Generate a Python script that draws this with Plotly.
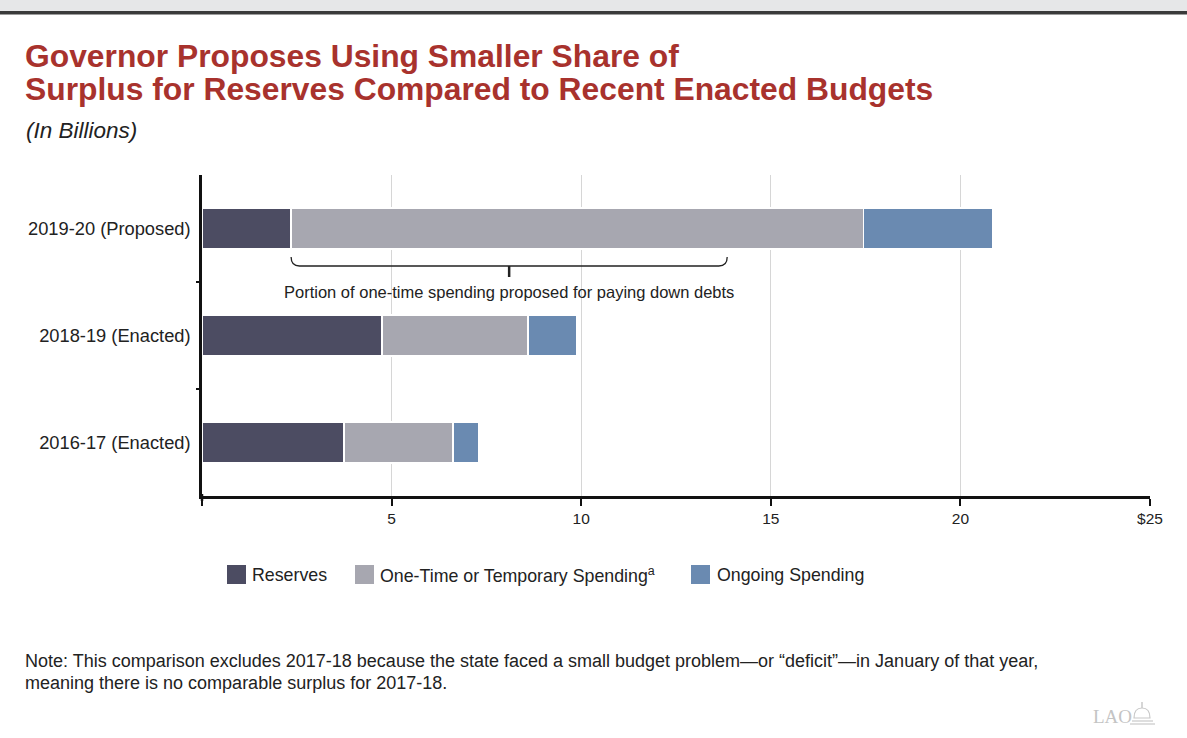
import plotly.graph_objects as go

categories = ["2016-17 (Enacted)", "2018-19 (Enacted)", "2019-20 (Proposed)"]
reserves = [3.74, 4.75, 2.35]
one_time = [2.88, 3.85, 15.1]
ongoing = [0.69, 1.27, 3.4]
series_names = ["Reserves", "One-Time or Temporary Spending<sup>a</sup>", "Ongoing Spending"]
colors = ["#4c4c62", "#a7a7b0", "#6a8ab1"]
x_tickvals = [0, 5, 10, 15, 20, 25]
x_ticktext = ["", "5", "10", "15", "20", "$25"]
bracket_start, bracket_end, bracket_mid = 2.35, 13.85, 8.1

W, H = 1187, 738
L, R, T, B = 202, 1150, 175, 496

def xp(px):
    return (px - L) / (R - L)

def yp(py):
    return (B - py) / (B - T)

fig = go.Figure()
for name, vals, col in zip(series_names, [reserves, one_time, ongoing], colors):
    fig.add_trace(go.Bar(
        y=categories, x=vals, name=name, orientation="h",
        marker=dict(color=col, line=dict(color="white", width=1.5)),
        width=0.38, hoverinfo="x+name", showlegend=False,
    ))

shapes = [
    dict(type="rect", xref="paper", yref="paper", x0=xp(0), x1=xp(W), y0=yp(0), y1=yp(11),
         fillcolor="#e6e7e8", line=dict(width=0), layer="above"),
    dict(type="rect", xref="paper", yref="paper", x0=xp(0), x1=xp(W), y0=yp(11), y1=yp(14.5),
         fillcolor="#3a3a3a", line=dict(width=0), layer="above"),
    # y-axis line extension below x axis
    dict(type="line", xref="paper", yref="paper", x0=0, x1=0, y0=yp(494), y1=yp(501),
         line=dict(color="#111", width=2.5)),
]
# y-axis boundary ticks between categories
for b in [0.5, 1.5]:
    shapes.append(dict(type="line", xref="paper", yref="y", x0=xp(196), x1=xp(202), y0=b, y1=b,
                       line=dict(color="#111", width=2)))

d = 0.22
top, mid = yp(257), yp(266)
shapes.append(dict(
    type="path", xref="x", yref="paper",
    path=(f"M {bracket_start},{top} Q {bracket_start},{mid} {bracket_start + d},{mid} "
          f"L {bracket_end - d},{mid} Q {bracket_end},{mid} {bracket_end},{top}"),
    line=dict(color="#222", width=1.3),
))
shapes.append(dict(type="line", xref="x", yref="paper", x0=bracket_mid, x1=bracket_mid,
                   y0=mid, y1=yp(277), line=dict(color="#222", width=2.5)))

# legend swatches (drawn manually to match square swatches)
legend_swatch_px = [227, 355, 691]
legend_text_px = [250, 378, 715]
for sx, col in zip(legend_swatch_px, colors):
    shapes.append(dict(type="rect", xref="paper", yref="paper", x0=xp(sx), x1=xp(sx + 19),
                       y0=yp(565), y1=yp(584), fillcolor=col, line=dict(width=0)))

# LAO logo dome (small decoration)
g = "#c8c8c8"
shapes += [
    dict(type="path", xref="paper", yref="paper",
         path=f"M {xp(1134)},{yp(718)} Q {xp(1134)},{yp(708)} {xp(1142)},{yp(708)} "
              f"Q {xp(1150)},{yp(708)} {xp(1150)},{yp(718)} Z",
         line=dict(color=g, width=1.2)),
    dict(type="line", xref="paper", yref="paper", x0=xp(1142), x1=xp(1142), y0=yp(708), y1=yp(702),
         line=dict(color=g, width=1.5)),
    dict(type="line", xref="paper", yref="paper", x0=xp(1132), x1=xp(1153), y0=yp(721), y1=yp(721),
         line=dict(color=g, width=1.2)),
    dict(type="line", xref="paper", yref="paper", x0=xp(1130), x1=xp(1155), y0=yp(724), y1=yp(724),
         line=dict(color=g, width=1.2)),
]

annotations = [
    dict(text="<b>Governor Proposes Using Smaller Share of</b>", x=xp(23), y=yp(56),
         font=dict(size=31.8, color="#a8322d")),
    dict(text="<b>Surplus for Reserves Compared to Recent Enacted Budgets</b>", x=xp(23), y=yp(89),
         font=dict(size=31.8, color="#a8322d")),
    dict(text="<i>(In Billions)</i>", x=xp(24), y=yp(130), font=dict(size=22.5, color="#222")),
    dict(text="Note: This comparison excludes 2017-18 because the state faced a small budget problem\u2014or \u201cdeficit\u201d\u2014in January of that year,",
         x=xp(23), y=yp(661), font=dict(size=18, color="#222")),
    dict(text="meaning there is no comparable surplus for 2017-18.", x=xp(23), y=yp(683),
         font=dict(size=18, color="#222")),
    dict(text="LAO", x=xp(1091), y=yp(716), font=dict(size=19, color="#c4c4c4", family="Liberation Serif")),
]
for tx, name in zip(legend_text_px, series_names):
    annotations.append(dict(text=name, x=xp(tx), y=yp(575), font=dict(size=17.8, color="#222")))
for a in annotations:
    a.update(xref="paper", yref="paper", xanchor="left", yanchor="middle", showarrow=False)
annotations.append(dict(
    text="Portion of one-time spending proposed for paying down debts", xref="x", yref="paper",
    x=bracket_mid, y=yp(292), xanchor="center", yanchor="middle", showarrow=False,
    font=dict(size=16.5, color="#222"),
))

fig.update_layout(
    width=W, height=H, barmode="stack",
    margin=dict(l=L, r=W - R, t=T, b=H - B, pad=0),
    paper_bgcolor="white", plot_bgcolor="white",
    font=dict(family="Liberation Sans, Arial, sans-serif", color="#222"),
    showlegend=False,
    xaxis=dict(range=[0, 25], tickvals=x_tickvals, ticktext=x_ticktext,
               showgrid=True, gridcolor="#d6d6d6", gridwidth=1, zeroline=False,
               showline=True, linecolor="#111", linewidth=2.5,
               ticks="outside", ticklen=7, tickwidth=1.5, tickcolor="#111",
               tickfont=dict(size=15.5, color="#222"), fixedrange=True),
    yaxis=dict(type="category", categoryorder="array", categoryarray=categories,
               range=[-0.5, 2.5], showline=True, linecolor="#111", linewidth=2.5,
               ticks="", showgrid=False, tickfont=dict(size=18.3, color="#222"),
               ticklabelstandoff=5, fixedrange=True),
    shapes=shapes, annotations=annotations,
)

fig.write_html("out.html")
